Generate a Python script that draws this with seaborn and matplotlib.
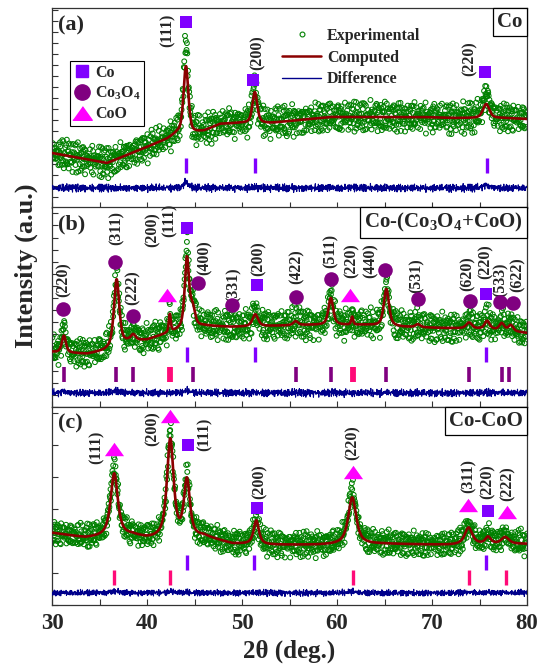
import numpy as np
import pandas as pd
import seaborn as sns
import matplotlib
matplotlib.use("Agg")
import matplotlib.pyplot as plt
from matplotlib.lines import Line2D
from matplotlib.ticker import MultipleLocator

# ---------------- data ----------------
TWO_THETA_MIN, TWO_THETA_MAX, STEP = 30.0, 80.0, 0.04

# Panel (a) Co
A_BG_X = [30, 35.8, 40, 42.1, 43.2, 44.8, 46.0, 47.7, 49.8, 53.0, 59.3, 68.7, 72.2, 77.5, 80]
A_BG_Y = [55, 45, 61, 69, 75, 75, 77, 84, 85, 85, 91, 91, 90, 90, 89]
A_PEAK_POS = [44.1, 51.35, 75.7]
A_CALC_H = [67, 31, 14]
A_OBS_H = [88, 34, 24]
A_WIDTH = [0.30, 0.30, 0.40]
A_CO_TICKS = [44.15, 51.35, 75.75]

# Panel (b) Co-(Co3O4+CoO)
B_BG_X = [30, 33.7, 35.5, 38.0, 40.0, 42.0, 43.5, 46.0, 49.0, 53.0, 57.0, 63.0, 67.0, 71.0, 76.0, 80.0]
B_BG_Y = [55, 53, 56, 65, 67, 73, 77, 81, 80, 81, 82, 82, 80, 79, 78, 74]
B_PEAK_POS = [31.25, 36.8, 38.55, 42.4, 44.2, 44.8, 51.4, 55.65, 59.35, 61.6, 65.2, 68.5, 73.9, 75.8, 77.35, 78.3]
B_CALC_H = [17, 67, 6, 18, 70, 18, 12, 4, 27, 8, 37, 3, 6, 8, 7, 6]
B_OBS_H = [25, 74, 8, 20, 80, 20, 14, 5, 29, 9, 40, 3, 7, 10, 8, 7]
B_WIDTH = [0.25, 0.33, 0.3, 0.12, 0.27, 0.3, 0.35, 0.3, 0.3, 0.12, 0.32, 0.3, 0.35, 0.3, 0.3, 0.3]
B_CO_TICKS = [44.2, 51.4, 75.7]
B_CO3O4_TICKS = [31.25, 36.75, 38.55, 44.8, 55.65, 59.35, 65.2, 73.9, 77.35, 78.1]
B_COO_TICKS = [42.4, 61.65]

# Panel (c) Co-CoO
C_BG_X = [30, 33.5, 38.5, 40.0, 43.5, 46.0, 49.0, 52.5, 58.0, 65.0, 72.0, 80.0]
C_BG_Y = [72, 67, 69, 66, 64, 68, 61, 60, 60, 61, 60, 61]
C_PEAK_POS = [36.55, 42.45, 44.2, 51.5, 61.6, 73.85, 75.9, 77.7]
C_CALC_H = [63, 100, 58, 24, 47, 17, 7, 7]
C_OBS_H = [70, 106, 60, 26, 53, 19, 9, 9]
C_WIDTH = [0.45, 0.42, 0.38, 0.33, 0.5, 0.48, 0.35, 0.48]
C_COO_TICKS = [36.5, 42.45, 61.65, 73.85, 77.8]
C_CO_TICKS = [44.2, 51.3, 75.65]

# hand-typed scatter of the measured points about the profile
JIT1 = [0.62, -0.35, 0.91, -0.78, 0.14, -0.52, 0.37, 0.85, -0.93, 0.05, -0.21, 0.68, -0.64, 0.29,
        -0.87, 0.48, 0.11, -0.43, 0.76, -0.09, -0.71, 0.57, 0.95, -0.28, -0.56, 0.33, -0.98, 0.72,
        0.19, -0.39, 0.81, -0.67, 0.02, 0.44, -0.83, 0.26, -0.14, 0.66, -0.47, 0.88, -0.31, -0.74,
        0.53, 0.08, -0.59, 0.97, -0.18, 0.41, -0.89, 0.23, 0.70, -0.05, -0.62, 0.36, -0.95, 0.59,
        0.16, -0.26, 0.83, -0.50, 0.31]
JIT2 = [-0.44, 0.79, -0.12, 0.58, -0.91, 0.27, 0.04, -0.66, 0.93, -0.35, 0.17, -0.81, 0.49, -0.07,
        0.72, -0.58, 0.39, -0.96, 0.12, 0.64, -0.29, 0.86, -0.47, -0.03, 0.55, -0.76, 0.21, 0.99,
        -0.38, -0.15, 0.67, -0.84, 0.32, -0.53, 0.09, 0.77, -0.69, 0.45, -0.22, 0.90, -0.61, 0.03,
        -0.33, 0.74, -0.88, 0.18, 0.51]

# annotations: (x, y, text) for hkl labels, (phase, x, y) for phase symbols
A_LABELS = [(42.2, 178, "(111)"), (51.6, 155, "(200)"), (74.0, 149, "(220)")]
A_SYMS = [("Co", 44.1, 186), ("Co", 51.2, 128), ("Co", 75.6, 136)]
B_LABELS = [(31.2, 127, "(220)"), (36.8, 179, "(311)"), (38.5, 119, "(222)"), (40.6, 177, "(200)"),
            (42.35, 187, "(111)"), (46.1, 149, "(400)"), (49.1, 122, "(331)"), (51.7, 148, "(200)"),
            (55.8, 140, "(422)"), (59.3, 156, "(511)"), (61.5, 146, "(220)"), (63.5, 146, "(440)"),
            (68.4, 131, "(531)"), (73.7, 133, "(620)"), (75.6, 145, "(220)"), (77.2, 127, "(533)"),
            (79.0, 132, "(622)")]
B_SYMS = [("Co3O4", 31.2, 98), ("Co3O4", 36.6, 145), ("Co3O4", 38.5, 91), ("CoO", 42.1, 112),
          ("Co", 44.2, 179), ("Co3O4", 45.4, 124), ("Co3O4", 48.9, 102), ("Co", 51.6, 122),
          ("Co3O4", 55.7, 110), ("Co3O4", 59.4, 128), ("CoO", 61.4, 112), ("Co3O4", 65.1, 137),
          ("Co3O4", 68.5, 108), ("Co3O4", 74.0, 106), ("Co", 75.7, 113), ("Co3O4", 77.2, 105),
          ("Co3O4", 78.5, 104)]
C_LABELS = [(34.7, 158, "(111)"), (40.6, 176, "(200)"), (46.1, 171, "(111)"), (51.9, 123, "(200)"),
            (61.6, 162, "(220)"), (73.9, 129, "(311)"), (75.9, 123, "(220)"), (78.0, 121, "(222)")]
C_SYMS = [("CoO", 36.5, 156), ("CoO", 42.4, 189), ("Co", 44.3, 160), ("Co", 51.6, 97),
          ("CoO", 61.7, 133), ("CoO", 73.8, 100), ("Co", 75.9, 94), ("CoO", 77.9, 93)]

# ---------------- style ----------------
sns.set_style("ticks")
plt.rcParams.update({
    "font.family": ["Liberation Serif", "DejaVu Serif"],
    "font.weight": "bold",
    "axes.labelweight": "bold",
    "mathtext.fontset": "custom",
    "mathtext.rm": "Liberation Serif:bold",
    "mathtext.it": "Liberation Serif:bold:italic",
    "mathtext.bf": "Liberation Serif:bold",
    "axes.linewidth": 0.9,
    "axes.edgecolor": "#333333",
    "xtick.direction": "in",
    "ytick.direction": "in",
})

GREEN = "#008000"
CALC = "#8b0000"
DIFF = "#00008b"
CO_C = "#8000ff"
CO3O4_C = "#800080"
COO_C = "#ff00ff"
COO_TICK = "#ff0a78"
TRI = [(-1, -0.7), (1, -0.7), (0, 0.7)]
SYM_STYLE = {"Co": dict(marker="s", s=75, color=CO_C),
             "Co3O4": dict(marker="o", s=110, color=CO3O4_C),
             "CoO": dict(marker=TRI, s=190, color=COO_C)}

x = np.arange(TWO_THETA_MIN, TWO_THETA_MAX + STEP / 2, STEP)
idx = np.arange(len(x))


def pv(xx, pos, h, w, eta):
    d = ((xx - pos) / w) ** 2
    return h * (eta / (1 + d) + (1 - eta) * np.exp(-np.log(2) * d))


def profile(bgx, bgy, pos, hs, ws, eta):
    y = np.interp(x, bgx, bgy)
    for p, h, w in zip(pos, hs, ws):
        y = y + pv(x, p, h, w, eta)
    return y


def jitter(shift):
    j1 = np.array(JIT1)[(idx + shift) % len(JIT1)]
    j2 = np.array(JIT2)[(idx + 2 * shift) % len(JIT2)]
    return 0.65 * j1 + 0.35 * j2


fig = plt.figure(figsize=(5.38, 6.68), dpi=100)
W, H = 538, 668
L, R = 52, 527
panels_px = [(8, 208), (207, 407), (407, 605)]
axes = [fig.add_axes([L / W, 1 - b / H, (R - L) / W, (b - t) / H]) for t, b in panels_px]

specs = [
    dict(bg=(A_BG_X, A_BG_Y), pos=A_PEAK_POS, hc=A_CALC_H, ho=A_OBS_H, w=A_WIDTH, eta=0.5,
         amp=18, shift=0, base=20, ymax=200, yt=11),
    dict(bg=(B_BG_X, B_BG_Y), pos=B_PEAK_POS, hc=B_CALC_H, ho=B_OBS_H, w=B_WIDTH, eta=0.6,
         amp=18, shift=17, base=14, ymax=200, yt=12.1),
    dict(bg=(C_BG_X, C_BG_Y), pos=C_PEAK_POS, hc=C_CALC_H, ho=C_OBS_H, w=C_WIDTH, eta=0.8,
         amp=15, shift=31, base=12, ymax=198, yt=32),
]

for ax, sp in zip(axes, specs):
    calc = profile(sp["bg"][0], sp["bg"][1], sp["pos"], sp["hc"], sp["w"], sp["eta"])
    obs = profile(sp["bg"][0], sp["bg"][1], sp["pos"], sp["ho"], sp["w"], sp["eta"]) + sp["amp"] * jitter(sp["shift"])
    diff = sp["base"] + 0.27 * (obs - calc)
    df = pd.DataFrame({"tt": x, "obs": obs, "calc": calc, "diff": diff})
    sns.scatterplot(data=df, x="tt", y="obs", ax=ax, s=12, marker="o", facecolor="none",
                    edgecolor=GREEN, linewidth=0.75, zorder=2, legend=False)
    sns.lineplot(data=df, x="tt", y="calc", ax=ax, color=CALC, lw=1.9, zorder=3, errorbar=None)
    sns.lineplot(data=df, x="tt", y="diff", ax=ax, color=DIFF, lw=0.8, zorder=3, errorbar=None)
    ax.set_xlim(TWO_THETA_MIN, TWO_THETA_MAX)
    ax.set_ylim(0, sp["ymax"])
    ax.set_xlabel("")
    ax.set_ylabel("")
    ax.xaxis.set_major_locator(MultipleLocator(10))
    ax.xaxis.set_minor_locator(MultipleLocator(5))
    ax.yaxis.set_major_locator(MultipleLocator(sp["yt"]))
    ax.tick_params(axis="both", which="both", length=4, width=0.8, color="#333333")
    ax.tick_params(axis="y", labelleft=False)

axes[0].tick_params(axis="x", labelbottom=False)
axes[1].tick_params(axis="x", labelbottom=False)
axes[2].tick_params(axis="x", labelsize=16.5, pad=6)

# Bragg tick marks
axes[0].vlines(A_CO_TICKS, 35, 50, color=CO_C, lw=2.4)
axes[1].vlines(B_CO_TICKS, 45, 60, color=CO_C, lw=2.4)
axes[1].vlines(B_CO3O4_TICKS, 25, 40, color=CO3O4_C, lw=2.6)
axes[1].vlines(B_COO_TICKS, 25, 40, color=COO_TICK, lw=4.2)
axes[2].vlines(C_COO_TICKS, 20, 35, color=COO_TICK, lw=2.4)
axes[2].vlines(C_CO_TICKS, 35, 50, color=CO_C, lw=2.4)

# phase symbols and hkl labels
for ax, labels, syms in zip(axes, [A_LABELS, B_LABELS, C_LABELS], [A_SYMS, B_SYMS, C_SYMS]):
    for lx, ly, s in labels:
        ax.text(lx, ly, s, rotation=90, ha="center", va="center", fontsize=11.5, fontweight="bold", zorder=6)
    for ph, sx, sy in syms:
        ax.scatter([sx], [sy], zorder=6, clip_on=False, linewidths=0, **SYM_STYLE[ph])

# panel letters and sample boxes
box = dict(boxstyle="square,pad=0.2", fc="white", ec="black", lw=0.9)
for ax, lab, name in zip(axes, ["(a)", "(b)", "(c)"], ["Co", r"Co-(Co$_3$O$_4$+CoO)", "Co-CoO"]):
    ax.text(0.012, 0.965, lab, transform=ax.transAxes, ha="left", va="top", fontsize=16, fontweight="bold")
    ax.text(0.991, 0.98, name, transform=ax.transAxes, ha="right", va="top", fontsize=15,
            fontweight="bold", bbox=box, zorder=7)

# legends in panel (a)
phase_handles = [
    Line2D([], [], ls="none", marker="s", ms=9, color=CO_C, label="Co"),
    Line2D([], [], ls="none", marker="o", ms=11, color=CO3O4_C, label=r"Co$_3$O$_4$"),
    Line2D([], [], ls="none", marker=TRI, ms=14, color=COO_C, label="CoO"),
]
leg1 = axes[0].legend(handles=phase_handles, loc="upper left", bbox_to_anchor=(0.038, 0.735),
                      frameon=True, fancybox=False, edgecolor="black", framealpha=1,
                      prop={"size": 11.5, "weight": "bold"}, handlelength=1.0, handletextpad=0.3,
                      labelspacing=0.25, borderpad=0.25, borderaxespad=0)
leg1.get_frame().set_linewidth(0.8)
axes[0].add_artist(leg1)

fit_handles = [
    Line2D([], [], ls="none", marker="o", ms=3.5, mfc="none", mec=GREEN, mew=0.8, label="Experimental"),
    Line2D([], [], color=CALC, lw=1.8, label="Computed"),
    Line2D([], [], color=DIFF, lw=1.0, label="Difference"),
]
axes[0].legend(handles=fit_handles, loc="upper left", bbox_to_anchor=(0.485, 0.90), frameon=False,
               prop={"size": 11.5, "weight": "bold"}, handlelength=2.4, handletextpad=0.4,
               labelspacing=0.35, borderpad=0, borderaxespad=0)

axes[2].set_xlabel(r"2θ (deg.)", fontsize=18, fontweight="bold", labelpad=4)
fig.text(26 / W, 1 - 266 / H, "Intensity (a.u.)", rotation=90, ha="center", va="center",
         fontsize=19, fontweight="bold")

fig.savefig("out.png", dpi=100)
